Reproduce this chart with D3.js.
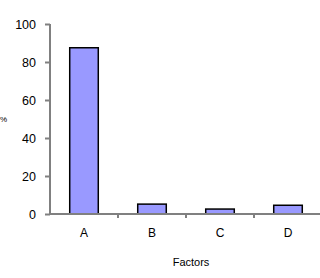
<!DOCTYPE html>
<html>
<head>
<meta charset="utf-8">
<script src="https://cdn.jsdelivr.net/npm/d3@7"></script>
<style>
  body { margin: 0; background: #fff; }
  text { font-family: "Liberation Sans", Arial, sans-serif; fill: #000; }
</style>
</head>
<body>
<script>
// data
var categories = ["A", "B", "C", "D"];
var values = [87.5, 5.2, 2.6, 4.6];
var yTicks = [0, 20, 40, 60, 80, 100];

var width = 320, height = 278;
var x0 = 50, x1 = 322, yTop = 24, yBase = 214;

var svg = d3.select("body").append("svg")
    .attr("width", width)
    .attr("height", height);

var x = d3.scaleBand().domain(categories).range([x0, x1]).paddingInner(0.58).paddingOuter(0.29);
var xb = d3.scaleBand().domain(categories).range([x0, x1]);
var y = d3.scaleLinear().domain([0, 100]).range([yBase, yTop]);

// bars
svg.selectAll("rect.bar")
  .data(values)
  .enter()
  .append("rect")
    .attr("class", "bar")
    .attr("x", function(d, i) { return x(categories[i]); })
    .attr("y", function(d) { return y(d); })
    .attr("width", x.bandwidth())
    .attr("height", function(d) { return yBase - y(d); })
    .attr("fill", "#9999ff")
    .attr("stroke", "#000")
    .attr("stroke-width", 1.5);

// y axis
var yAxis = svg.append("g")
    .attr("transform", "translate(" + x0 + ",0)")
    .call(d3.axisLeft(y).tickValues(yTicks).tickSize(5).tickPadding(9));
yAxis.select(".domain").attr("stroke", "#808080").attr("stroke-width", 2).attr("d", "M0," + yTop + "V" + yBase);
yAxis.selectAll(".tick line").attr("stroke", "#808080").attr("stroke-width", 2);
yAxis.selectAll(".tick text").attr("font-size", 12.5).attr("font-family", "Liberation Sans, Arial, sans-serif");

// x axis line and tick marks at category boundaries
svg.append("line")
    .attr("x1", x0).attr("x2", x1)
    .attr("y1", yBase).attr("y2", yBase)
    .attr("stroke", "#808080").attr("stroke-width", 2);
svg.selectAll("line.xt")
  .data(categories)
  .enter()
  .append("line")
    .attr("class", "xt")
    .attr("x1", function(d) { return xb(d) + xb.bandwidth(); })
    .attr("x2", function(d) { return xb(d) + xb.bandwidth(); })
    .attr("y1", yBase).attr("y2", yBase + 4)
    .attr("stroke", "#808080").attr("stroke-width", 2);

svg.selectAll("text.cat")
  .data(categories)
  .enter()
  .append("text")
    .attr("class", "cat")
    .attr("x", function(d) { return xb(d) + xb.bandwidth() / 2; })
    .attr("y", 237)
    .attr("text-anchor", "middle")
    .attr("font-size", 12)
    .text(function(d) { return d; });

// axis titles
svg.append("text")
    .attr("x", 191).attr("y", 266)
    .attr("text-anchor", "middle")
    .attr("font-size", 11)
    .text("Factors");

svg.append("text")
    .attr("x", 0).attr("y", 122)
    .attr("font-size", 8)
    .text("%");
</script>
</body>
</html>
